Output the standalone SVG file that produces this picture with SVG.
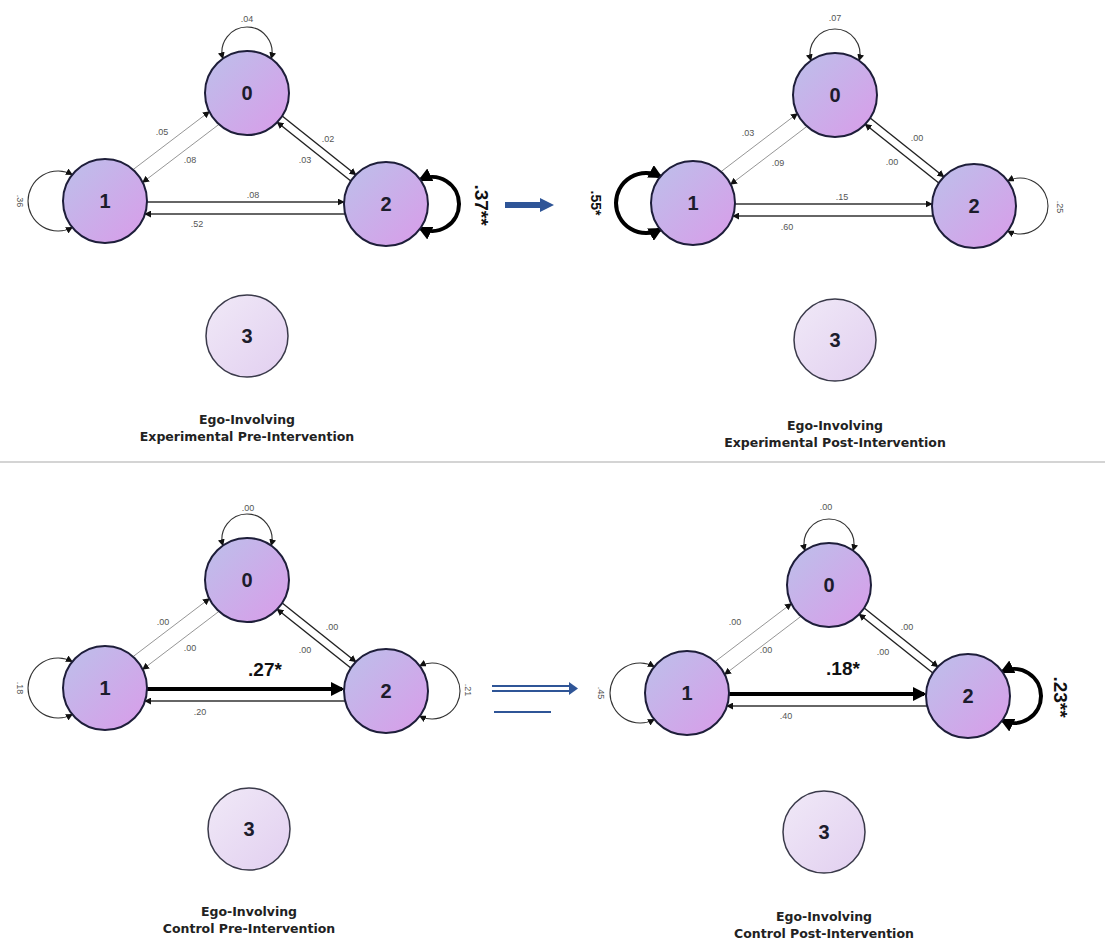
<svg xmlns="http://www.w3.org/2000/svg" width="1105" height="945" viewBox="0 0 1105 945">
  <defs>
    <linearGradient id="nodeFill" x1="0" y1="0" x2="1" y2="1">
      <stop offset="0" stop-color="#bcc0ea"/>
      <stop offset="1" stop-color="#d99ce9"/>
    </linearGradient>
    <linearGradient id="idleFill" x1="0" y1="0" x2="1" y2="1">
      <stop offset="0" stop-color="#f0e9f7"/>
      <stop offset="1" stop-color="#e2cff0"/>
    </linearGradient>
    <marker id="ah" viewBox="0 0 10 10" refX="9" refY="5" markerWidth="7" markerHeight="7" markerUnits="userSpaceOnUse" orient="auto-start-reverse">
      <path d="M0,0 L10,5 L0,10 z" fill="#111"/>
    </marker>
    <marker id="ahb" viewBox="0 0 10 10" refX="8" refY="5" markerWidth="14" markerHeight="14" markerUnits="userSpaceOnUse" orient="auto-start-reverse">
      <path d="M0,0 L10,5 L0,10 z" fill="#000"/>
    </marker>
    <style>
      .node circle { fill: url(#nodeFill); stroke: #1e1e3a; stroke-width: 2; }
      .idle circle { fill: url(#idleFill); stroke: #3a3a4a; stroke-width: 1.5; }
      .node text, .idle text { font-family: "Liberation Sans", Arial, sans-serif; font-weight: bold; font-size: 20px; fill: #1c1c2c; text-anchor: middle; dominant-baseline: central; }
      .edges path, .edges line { fill: none; }
      .faint { stroke: #8a8a8a; stroke-width: 0.9; marker-end: url(#ah); }
      .dark { stroke: #222; stroke-width: 1.4; marker-end: url(#ah); }
      .flat { stroke: #333; stroke-width: 1.3; marker-end: url(#ah); }
      .loop { stroke: #333; stroke-width: 1.1; marker-start: url(#ah); marker-end: url(#ah); }
      .heavy { stroke: #000; stroke-width: 4; marker-end: url(#ahb); }
      .loop.heavy { marker-start: url(#ahb); }
      .lbl { font-family: "Liberation Sans", Arial, sans-serif; font-size: 9px; fill: #555; text-anchor: middle; dominant-baseline: central; }
      .big { font-family: "Liberation Sans", Arial, sans-serif; font-weight: bold; font-size: 19px; fill: #111; text-anchor: middle; dominant-baseline: central; }
      .cap { font-family: "DejaVu Sans", Verdana, sans-serif; font-weight: bold; font-size: 12.5px; fill: #222; text-anchor: middle; }
      .shift { fill: #2f5597; stroke: #2f5597; }
    </style>
  </defs>

  <rect width="1105" height="945" fill="#ffffff"/>

  <!-- divider between the ego-involving experimental and control rows -->
  <line x1="0" y1="462" x2="1105" y2="462" stroke="#d4d4d4" stroke-width="2"/>

  <!-- ===== Experimental, pre-intervention ===== -->
  <g id="exp-pre">
    <g id="exp-pre-edges" class="edges">
      <path class="loop" d="M222.9,58.6 A25,25 0 1 1 271.1,58.6"/>
      <path class="loop" d="M72.31,174.63 A30,30 0 1 0 72.31,227.37"/>
      <path class="loop heavy" d="M420.25,179.7 A27,27 0 1 1 420.25,228.3"/>
      <line class="faint" x1="132.96" y1="169.69" x2="209.36" y2="111.57"/>
      <line class="faint" x1="219.04" y1="124.31" x2="142.64" y2="182.43"/>
      <line class="dark" x1="282.16" y1="115.95" x2="355.84" y2="174.79"/>
      <line class="dark" x1="350.84" y1="181.05" x2="277.16" y2="122.21"/>
      <line class="flat" x1="147" y1="202" x2="344" y2="202"/>
      <line class="flat" x1="345.2" y1="214" x2="144.9" y2="214"/>
      <text class="lbl" x="247" y="19">.04</text>
      <text class="lbl" transform="translate(20,201) rotate(90)">.36</text>
      <text class="big" transform="translate(481,205) rotate(90)">.37**</text>
      <text class="lbl" x="162" y="132">.05</text>
      <text class="lbl" x="190" y="160">.08</text>
      <text class="lbl" x="328" y="139">.02</text>
      <text class="lbl" x="305" y="160">.03</text>
      <text class="lbl" x="253" y="195">.08</text>
      <text class="lbl" x="197" y="224">.52</text>
    </g>
    <g id="exp-pre-s0" class="node"><circle cx="247" cy="93" r="42"/><text x="247" y="93">0</text></g>
    <g id="exp-pre-s1" class="node"><circle cx="105" cy="201" r="42"/><text x="105" y="201">1</text></g>
    <g id="exp-pre-s2" class="node"><circle cx="386" cy="204" r="42"/><text x="386" y="204">2</text></g>
    <g id="exp-pre-s3" class="idle"><circle cx="247" cy="336" r="41"/><text x="247" y="336">3</text></g>
    <text class="cap" x="247" y="424">Ego-Involving</text>
    <text class="cap" x="247" y="441">Experimental Pre-Intervention</text>
  </g>

  <!-- ===== Experimental, post-intervention ===== -->
  <g id="exp-post" transform="translate(588,2)">
    <g id="exp-post-edges" class="edges">
      <path class="loop" d="M222.9,58.6 A25,25 0 1 1 271.1,58.6"/>
      <path class="loop heavy" d="M72.31,174.63 A30,30 0 1 0 72.31,227.37"/>
      <path class="loop" d="M419.65,178.87 A28,28 0 1 1 419.65,229.13"/>
      <line class="faint" x1="132.96" y1="169.69" x2="209.36" y2="111.57"/>
      <line class="faint" x1="219.04" y1="124.31" x2="142.64" y2="182.43"/>
      <line class="dark" x1="282.16" y1="115.95" x2="355.84" y2="174.79"/>
      <line class="dark" x1="350.84" y1="181.05" x2="277.16" y2="122.21"/>
      <line class="flat" x1="147" y1="202" x2="344" y2="202"/>
      <line class="flat" x1="345.2" y1="214" x2="144.9" y2="214"/>
      <text class="lbl" x="247" y="16">.07</text>
      <text class="big" style="font-size:14px" transform="translate(8,201) rotate(90)">.55*</text>
      <text class="lbl" transform="translate(472,205) rotate(90)">.25</text>
      <text class="lbl" x="160" y="131">.03</text>
      <text class="lbl" x="190" y="161">.09</text>
      <text class="lbl" x="329" y="136">.00</text>
      <text class="lbl" x="304" y="160">.00</text>
      <text class="lbl" x="254" y="195">.15</text>
      <text class="lbl" x="199" y="225">.60</text>
    </g>
    <g id="exp-post-s0" class="node"><circle cx="247" cy="93" r="42"/><text x="247" y="93">0</text></g>
    <g id="exp-post-s1" class="node"><circle cx="105" cy="201" r="42"/><text x="105" y="201">1</text></g>
    <g id="exp-post-s2" class="node"><circle cx="386" cy="204" r="42"/><text x="386" y="204">2</text></g>
    <g id="exp-post-s3" class="idle"><circle cx="247" cy="338" r="41"/><text x="247" y="338">3</text></g>
    <text class="cap" x="247" y="428">Ego-Involving</text>
    <text class="cap" x="247" y="445">Experimental Post-Intervention</text>
  </g>

  <!-- ===== Control, pre-intervention ===== -->
  <g id="ctl-pre" transform="translate(0,487)">
    <g id="ctl-pre-edges" class="edges">
      <path class="loop" d="M222.9,58.6 A25,25 0 1 1 271.1,58.6"/>
      <path class="loop" d="M72.31,174.63 A30,30 0 1 0 72.31,227.37"/>
      <path class="loop" d="M419.65,178.87 A28,28 0 1 1 419.65,229.13"/>
      <line class="faint" x1="132.96" y1="169.69" x2="209.36" y2="111.57"/>
      <line class="faint" x1="219.04" y1="124.31" x2="142.64" y2="182.43"/>
      <line class="dark" x1="282.16" y1="115.95" x2="355.84" y2="174.79"/>
      <line class="dark" x1="350.84" y1="181.05" x2="277.16" y2="122.21"/>
      <line class="heavy" x1="147" y1="202" x2="342" y2="202"/>
      <line class="flat" x1="345.2" y1="214" x2="144.9" y2="214"/>
      <text class="lbl" x="248" y="21">.00</text>
      <text class="lbl" transform="translate(20,201) rotate(90)">.18</text>
      <text class="lbl" transform="translate(468,203) rotate(90)">.21</text>
      <text class="lbl" x="163" y="135">.00</text>
      <text class="lbl" x="190" y="161">.00</text>
      <text class="lbl" x="332" y="140">.00</text>
      <text class="lbl" x="305" y="163">.00</text>
      <text class="big" x="265" y="182">.27*</text>
      <text class="lbl" x="200" y="225">.20</text>
    </g>
    <g id="ctl-pre-s0" class="node"><circle cx="247" cy="93" r="42"/><text x="247" y="93">0</text></g>
    <g id="ctl-pre-s1" class="node"><circle cx="105" cy="201" r="42"/><text x="105" y="201">1</text></g>
    <g id="ctl-pre-s2" class="node"><circle cx="386" cy="204" r="42"/><text x="386" y="204">2</text></g>
    <g id="ctl-pre-s3" class="idle"><circle cx="249" cy="342" r="41"/><text x="249" y="342">3</text></g>
    <text class="cap" x="249" y="429">Ego-Involving</text>
    <text class="cap" x="249" y="446">Control Pre-Intervention</text>
  </g>

  <!-- ===== Control, post-intervention ===== -->
  <g id="ctl-post" transform="translate(582,492)">
    <g id="ctl-post-edges" class="edges">
      <path class="loop" d="M222.9,58.6 A25,25 0 1 1 271.1,58.6"/>
      <path class="loop" d="M72.31,174.63 A30,30 0 1 0 72.31,227.37"/>
      <path class="loop heavy" d="M420.25,179.7 A27,27 0 1 1 420.25,228.3"/>
      <line class="faint" x1="132.96" y1="169.69" x2="209.36" y2="111.57"/>
      <line class="faint" x1="219.04" y1="124.31" x2="142.64" y2="182.43"/>
      <line class="dark" x1="282.16" y1="115.95" x2="355.84" y2="174.79"/>
      <line class="dark" x1="350.84" y1="181.05" x2="277.16" y2="122.21"/>
      <line class="heavy" x1="147" y1="202" x2="342" y2="202"/>
      <line class="flat" x1="345.2" y1="214" x2="144.9" y2="214"/>
      <text class="lbl" x="244" y="15">.00</text>
      <text class="lbl" transform="translate(19,201) rotate(90)">.45</text>
      <text class="big" transform="translate(478,205) rotate(90)">.23**</text>
      <text class="lbl" x="153" y="130">.00</text>
      <text class="lbl" x="184" y="158">.00</text>
      <text class="lbl" x="325" y="135">.00</text>
      <text class="lbl" x="301" y="160">.00</text>
      <text class="big" x="261" y="176">.18*</text>
      <text class="lbl" x="204" y="224">.40</text>
    </g>
    <g id="ctl-post-s0" class="node"><circle cx="247" cy="93" r="42"/><text x="247" y="93">0</text></g>
    <g id="ctl-post-s1" class="node"><circle cx="105" cy="201" r="42"/><text x="105" y="201">1</text></g>
    <g id="ctl-post-s2" class="node"><circle cx="386" cy="204" r="42"/><text x="386" y="204">2</text></g>
    <g id="ctl-post-s3" class="idle"><circle cx="242" cy="340" r="41"/><text x="242" y="340">3</text></g>
    <text class="cap" x="242" y="429">Ego-Involving</text>
    <text class="cap" x="242" y="446">Control Post-Intervention</text>
  </g>

  <!-- pre to post transitions -->
  <g id="shift-arrows">
    <line class="shift" x1="505" y1="205" x2="542" y2="205" stroke-width="6"/>
    <polygon class="shift" points="540,198 554,205 540,212" stroke-width="0"/>
    <line class="shift" x1="492" y1="686" x2="571" y2="686" stroke-width="1.8"/>
    <line class="shift" x1="492" y1="691" x2="571" y2="691" stroke-width="1.8"/>
    <polygon class="shift" points="569,682 578,688.5 569,695" stroke-width="0"/>
    <line class="shift" x1="494" y1="712" x2="551" y2="712" stroke-width="2.2"/>
  </g>
</svg>
